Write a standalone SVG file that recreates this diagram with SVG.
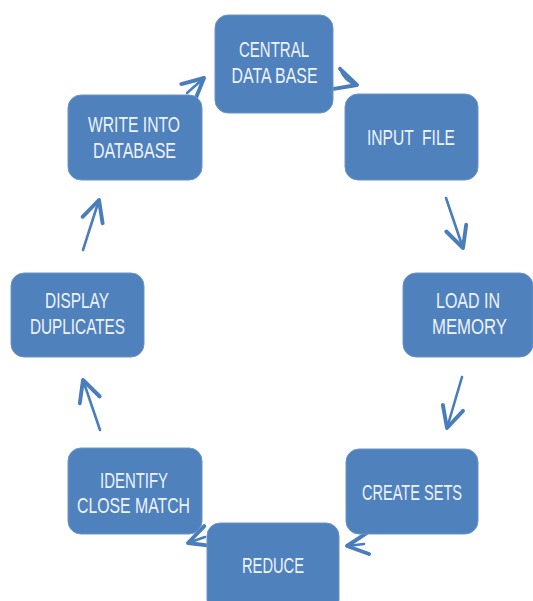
<svg xmlns="http://www.w3.org/2000/svg" width="533" height="601" viewBox="0 0 533 601">
<defs>
<style>
.box{fill:#4f81bd;stroke:#6a95c8;stroke-width:1}
.lbl{font-family:"Liberation Sans",Arial,sans-serif;font-size:22.5px;fill:#eef3fa;text-anchor:middle}
.arr{fill:none;stroke:#4a7ebb;stroke-width:2.6;stroke-linecap:round}
</style>
<marker id="ah" markerUnits="userSpaceOnUse" markerWidth="30" markerHeight="30" viewBox="-16 -10 20 20" refX="0" refY="0" orient="auto">
<path d="M-14,-7 L0,0 L-14,7" fill="none" stroke="#4a7ebb" stroke-width="2.6" stroke-linecap="round" stroke-linejoin="round"/>
</marker>
</defs>
<rect width="533" height="601" fill="#ffffff"/>
<g id="connectors">
<path class="arr" d="M187,93 L204,78" marker-end="url(#ah)"/>
<path class="arr" d="M340,68 Q344,81 357,85" marker-end="url(#ah)"/>
<path class="arr" d="M446,198 L463,248" marker-end="url(#ah)"/>
<path class="arr" d="M462,377 L447,428" marker-end="url(#ah)"/>
<path class="arr" d="M364,544 L347,546" marker-end="url(#ah)"/>
<path class="arr" d="M205,537 L188,543" marker-end="url(#ah)"/>
<path class="arr" d="M100,430 L83,380" marker-end="url(#ah)"/>
<path class="arr" d="M83,250 L99,200" marker-end="url(#ah)"/>
</g>
<g id="central">
<rect class="box" x="215" y="15" width="118" height="98" rx="13"/>
<text class="lbl" x="274" y="57" textLength="70" lengthAdjust="spacingAndGlyphs">CENTRAL</text>
<text class="lbl" x="274.5" y="83" textLength="86" lengthAdjust="spacingAndGlyphs">DATA BASE</text>
</g>
<g id="input">
<rect class="box" x="345" y="94" width="133" height="86" rx="13"/>
<text class="lbl" x="411" y="145" textLength="88" lengthAdjust="spacingAndGlyphs" xml:space="preserve">INPUT  FILE</text>
</g>
<g id="load">
<rect class="box" x="403" y="273" width="130" height="84" rx="13"/>
<text class="lbl" x="468" y="308" textLength="64" lengthAdjust="spacingAndGlyphs">LOAD IN</text>
<text class="lbl" x="469.5" y="334" textLength="75" lengthAdjust="spacingAndGlyphs">MEMORY</text>
</g>
<g id="create">
<rect class="box" x="346" y="449" width="132" height="85" rx="13"/>
<text class="lbl" x="412" y="500" textLength="100" lengthAdjust="spacingAndGlyphs">CREATE SETS</text>
</g>
<g id="reduce">
<rect class="box" x="207" y="523" width="132" height="90" rx="13"/>
<text class="lbl" x="273" y="573" textLength="62" lengthAdjust="spacingAndGlyphs">REDUCE</text>
</g>
<g id="identify">
<rect class="box" x="68" y="448" width="134" height="86" rx="13"/>
<text class="lbl" x="134" y="488" textLength="68" lengthAdjust="spacingAndGlyphs">IDENTIFY</text>
<text class="lbl" x="133.5" y="513" textLength="113" lengthAdjust="spacingAndGlyphs">CLOSE MATCH</text>
</g>
<g id="display">
<rect class="box" x="11" y="273" width="133" height="84" rx="13"/>
<text class="lbl" x="77" y="308" textLength="64" lengthAdjust="spacingAndGlyphs">DISPLAY</text>
<text class="lbl" x="77.5" y="334" textLength="95" lengthAdjust="spacingAndGlyphs">DUPLICATES</text>
</g>
<g id="write">
<rect class="box" x="68" y="95" width="134" height="85" rx="13"/>
<text class="lbl" x="134" y="132" textLength="92" lengthAdjust="spacingAndGlyphs">WRITE INTO</text>
<text class="lbl" x="134.5" y="158" textLength="83" lengthAdjust="spacingAndGlyphs">DATABASE</text>
</g>
</svg>
